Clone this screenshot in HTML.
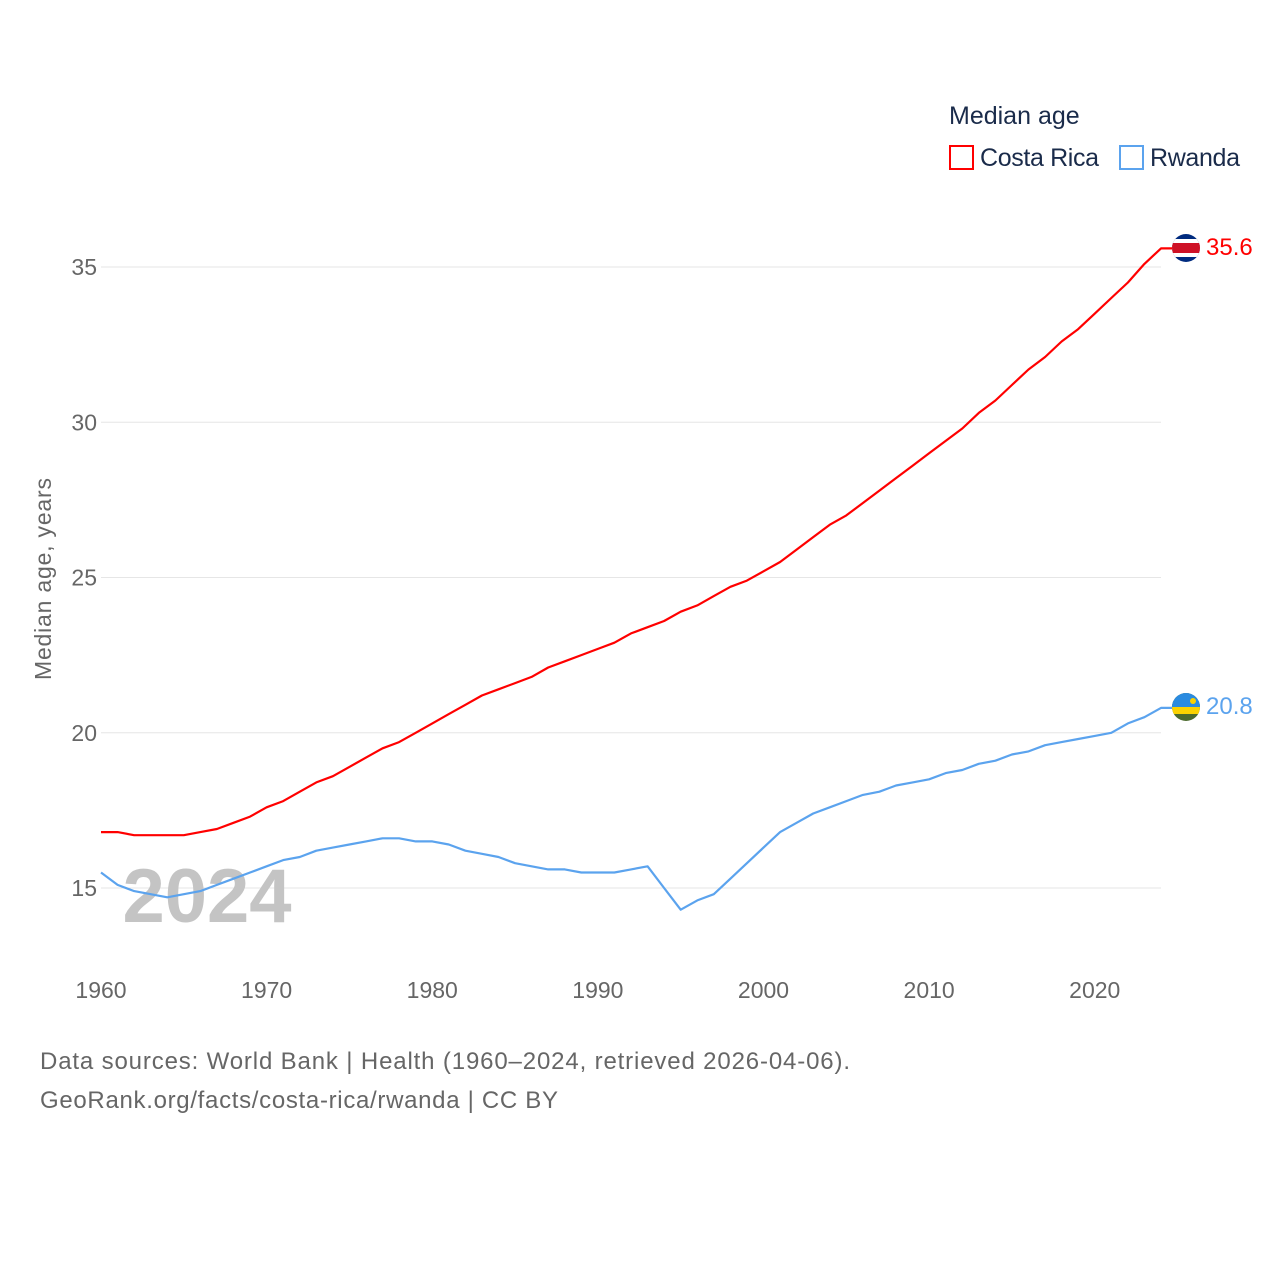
<!DOCTYPE html>
<html><head><meta charset="utf-8"><style>
html,body{margin:0;padding:0;background:#fff;width:1280px;height:1280px;overflow:hidden}
svg text{font-family:"Liberation Sans",sans-serif}
</style></head><body>
<svg id="chart" width="1280" height="1280" xmlns="http://www.w3.org/2000/svg">
<g id="grid"></g>
<g id="yticks"></g>
<g id="xticks"></g>
<text x="207" y="922" font-size="76" font-weight="bold" fill="#c4c4c4" text-anchor="middle">2024</text>
<g id="series"></g>
<text transform="translate(51,579) rotate(-90)" font-size="23" fill="#666" text-anchor="middle" textLength="202">Median age, years</text>
<text x="949" y="124" font-size="25" fill="#1a2b4a">Median age</text>
<g><rect x="950" y="146" width="23" height="23" fill="none" stroke="#ff0000" stroke-width="2"/><text x="980" y="166" font-size="25" fill="#1a2b4a" textLength="119">Costa Rica</text></g>
<g><rect x="1120" y="146" width="23" height="23" fill="none" stroke="#5ba3ee" stroke-width="2"/><text x="1150" y="166" font-size="25" fill="#1a2b4a" textLength="90">Rwanda</text></g>
<g><clipPath id="c1"><circle cx="1186" cy="248" r="14"/></clipPath><g clip-path="url(#c1)"><rect x="1172" y="234" width="28" height="28" fill="#002b7f"/><rect x="1172" y="239" width="28" height="18" fill="#fff"/><rect x="1172" y="243" width="28" height="10" fill="#ce1126"/></g></g>
<g><clipPath id="c2"><circle cx="1186" cy="707" r="14"/></clipPath><g clip-path="url(#c2)"><rect x="1172" y="693" width="28" height="28" fill="#4b6a2e"/><rect x="1172" y="693" width="28" height="14" fill="#2a8be0"/><rect x="1172" y="707" width="28" height="7" fill="#fad201"/><circle cx="1193" cy="701" r="3" fill="#fad201"/></g></g>
<text x="1206" y="255" font-size="24" fill="#ff0000">35.6</text>
<text x="1206" y="714" font-size="24" fill="#5ba3ee">20.8</text>
<text x="40" y="1069" font-size="24" fill="#666" textLength="810">Data sources: World Bank | Health (1960–2024, retrieved 2026-04-06).</text>
<text x="40" y="1108" font-size="24" fill="#666" textLength="518">GeoRank.org/facts/costa-rica/rwanda | CC BY</text>
</svg>
<script>
const years=[];for(let y=1960;y<=2024;y++)years.push(y);
const costaRica=[16.8,16.8,16.7,16.7,16.7,16.7,16.8,16.9,17.1,17.3,17.6,17.8,18.1,18.4,18.6,18.9,19.2,19.5,19.7,20.0,20.3,20.6,20.9,21.2,21.4,21.6,21.8,22.1,22.3,22.5,22.7,22.9,23.2,23.4,23.6,23.9,24.1,24.4,24.7,24.9,25.2,25.5,25.9,26.3,26.7,27.0,27.4,27.8,28.2,28.6,29.0,29.4,29.8,30.3,30.7,31.2,31.7,32.1,32.6,33.0,33.5,34.0,34.5,35.1,35.6];
const rwanda=[15.5,15.1,14.9,14.8,14.7,14.8,14.9,15.1,15.3,15.5,15.7,15.9,16.0,16.2,16.3,16.4,16.5,16.6,16.6,16.5,16.5,16.4,16.2,16.1,16.0,15.8,15.7,15.6,15.6,15.5,15.5,15.5,15.6,15.7,15.0,14.3,14.6,14.8,15.3,15.8,16.3,16.8,17.1,17.4,17.6,17.8,18.0,18.1,18.3,18.4,18.5,18.7,18.8,19.0,19.1,19.3,19.4,19.6,19.7,19.8,19.9,20.0,20.3,20.5,20.8];
const yTicks=[15,20,25,30,35];
const xTicks=[1960,1970,1980,1990,2000,2010,2020];
const NS="http://www.w3.org/2000/svg";
const xS=y=>101+(y-1960)*(1161-101)/64;
const yS=v=>888-(v-15)*(888-267)/20;
function el(t,a,p){const e=document.createElementNS(NS,t);for(const k in a)e.setAttribute(k,a[k]);document.getElementById(p).appendChild(e);return e;}
yTicks.forEach(v=>{
 const l=el('line',{x1:101,x2:1161,y1:yS(v),y2:yS(v),stroke:'#e6e6e6','stroke-width':1},'grid');
 
 
 const t=el('text',{x:97,y:yS(v)+8,'font-size':23,fill:'#666','text-anchor':'end'},'yticks');t.textContent=v;
 
 
});
xTicks.forEach(y=>{
 const t=el('text',{x:xS(y),y:998,'font-size':23,fill:'#666','text-anchor':'middle'},'xticks');t.textContent=y;
 
 
});
function line(data,color,name){
 let d=data.map((v,i)=>(i?'L':'M')+xS(years[i]).toFixed(1)+','+yS(v).toFixed(1)).join('');
 d+='H1172';
 const p=el('path',{d:d,fill:'none',stroke:color,'stroke-width':2.2,'stroke-linejoin':'round'},'series');
 
 
}
line(costaRica,'#ff0000','costa-rica-line');
line(rwanda,'#5ba3ee','rwanda-line');
</script>
</body></html>
